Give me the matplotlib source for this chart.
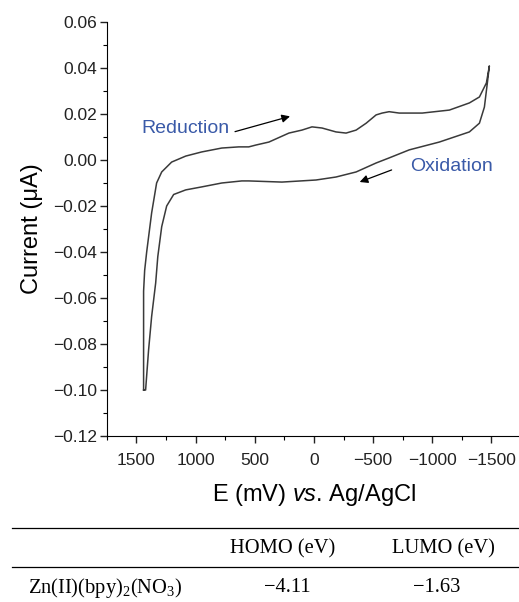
import matplotlib
matplotlib.use('Agg')
from matplotlib import pyplot as plt
from matplotlib.ticker import MultipleLocator, FuncFormatter

plt.rcParams['font.family'] = ['Liberation Sans', 'DejaVu Sans']
plt.rcParams['mathtext.fontset'] = 'custom'
plt.rcParams['mathtext.rm'] = 'Liberation Serif'
plt.rcParams['mathtext.it'] = 'Liberation Sans:italic'

# cyclic voltammogram (E in mV, I in uA)
potential = [1440, 1440, 1431, 1414, 1372, 1330, 1287, 1203, 1084, 949, 779, 635,
             551, 491, 381, 212, 102, 17, -68, -186, -271, -356, -441, -525, -576,
             -635, -720, -915, -1144, -1313, -1398, -1457, -1482,
             -1465, -1440, -1398, -1313, -1059, -805, -635, -525, -356, -186, -17,
             271, 551, 610, 779, 949, 1084, 1186, 1245, 1287, 1320, 1338, 1372,
             1398, 1423, 1440]
current = [-0.100, -0.057, -0.048, -0.040, -0.023, -0.010, -0.0052, -0.0009, 0.0017,
           0.0035, 0.0052, 0.0057, 0.0057, 0.0065, 0.0078, 0.0117, 0.013, 0.0144,
           0.0139, 0.0122, 0.0117, 0.013, 0.016, 0.0196, 0.0204, 0.021, 0.0204,
           0.0204, 0.0217, 0.0248, 0.0274, 0.0335, 0.0409,
           0.0335, 0.023, 0.016, 0.0122, 0.0078, 0.0044, 0.0009, -0.0013, -0.0052,
           -0.0074, -0.0087, -0.0096, -0.0091, -0.0091, -0.010, -0.0117, -0.013,
           -0.015, -0.020, -0.029, -0.042, -0.0535, -0.068, -0.0827, -0.100, -0.100]

col_labels = ['HOMO (eV)', 'LUMO (eV)']
compound = 'Zn(II)(bpy)$_2$(NO$_3$)'
homo = '\u22124.11'
lumo = '\u22121.63'

fig = plt.figure(figsize=(5.19, 6.02), dpi=100)
ax = fig.add_axes([0.206, 0.2757, 0.798, 0.6878])
ax.plot(potential, current, color='#3a3a3a', lw=1.1)
ax.set_xlim(1750, -1750)
ax.set_ylim(-0.12, 0.06)

ax.xaxis.set_major_locator(MultipleLocator(500))
ax.xaxis.set_minor_locator(MultipleLocator(250))
ax.yaxis.set_major_locator(MultipleLocator(0.02))
ax.yaxis.set_minor_locator(MultipleLocator(0.01))
ax.xaxis.set_major_formatter(FuncFormatter(lambda v, p: ('%d' % round(v)).replace('-', '\u2212')))
ax.yaxis.set_major_formatter(FuncFormatter(lambda v, p: ('%.2f' % (0 if abs(v) < 1e-9 else v)).replace('-', '\u2212')))
ax.tick_params(which='major', direction='out', length=5, width=1, labelsize=12.5, colors='#222222')
ax.tick_params(which='minor', direction='out', length=3, width=0.8)
ax.tick_params(axis='x', which='major', pad=7)
ax.tick_params(axis='y', which='major', pad=2)
ax.spines['top'].set_visible(False)
ax.spines['right'].set_visible(False)

ax.set_ylabel('Current (\u03bcA)', fontsize=17, labelpad=7)
ax.set_xlabel('E (mV) $\\it{vs}$. Ag/AgCl', fontsize=17, labelpad=10)

blue = '#3a5aa8'
ax.text(1460, 0.0139, 'Reduction', color=blue, fontsize=14, va='center', ha='left')
ax.annotate('', xy=(180, 0.0193), xytext=(690, 0.0120),
            arrowprops=dict(arrowstyle='-|>', color='black', lw=0.9, mutation_scale=12))
ax.text(-1160, -0.003, 'Oxidation', color=blue, fontsize=14, va='center', ha='center')
ax.annotate('', xy=(-364, -0.010), xytext=(-678, -0.0039),
            arrowprops=dict(arrowstyle='-|>', color='black', lw=0.9, mutation_scale=12))

# table below the chart
W, H = 519.0, 602.0
for yy in [528, 567]:
    fig.add_artist(plt.Line2D([12 / W, 1.0], [1 - yy / H, 1 - yy / H], color='black', lw=0.9))
serif = ['Liberation Serif', 'DejaVu Serif']
fig.text(283 / W, 1 - 549 / H, col_labels[0], family=serif, fontsize=14.8, ha='center', va='center')
fig.text(443 / W, 1 - 549 / H, col_labels[1], family=serif, fontsize=14.8, ha='center', va='center')
fig.text(28 / W, 1 - 588 / H, compound, family=serif, fontsize=14.8, ha='left', va='center')
fig.text(287 / W, 1 - 588 / H, homo, family=serif, fontsize=14.8, ha='center', va='center')
fig.text(437 / W, 1 - 588 / H, lumo, family=serif, fontsize=14.8, ha='center', va='center')

fig.savefig('out.png', dpi=100)
